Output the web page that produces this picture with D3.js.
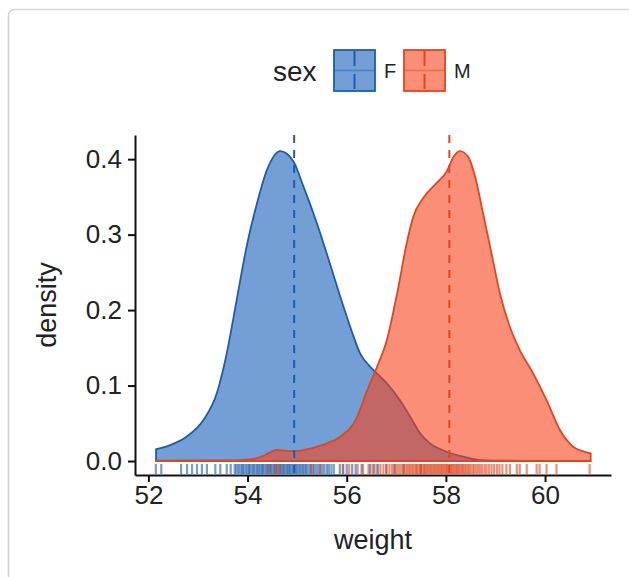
<!DOCTYPE html>
<html>
<head>
<meta charset="utf-8">
<script src="https://cdn.jsdelivr.net/npm/d3@7"></script>
<style>
  html, body { margin: 0; padding: 0; background: #ffffff; }
  svg { display: block; }
  text { font-family: "Liberation Sans", Arial, Helvetica, sans-serif; fill: #222; }
</style>
</head>
<body>
<svg id="chart" width="629" height="577"></svg>
<script>
// Groups and their colours
const groups = ["F", "M"];
const lineColors = ["#1d5cae", "#e0461f"];
const fillColors = ["#165fba", "#f6431a"];

// Density curve of weight for group F: [weight, density]
const densityF = [
  [52.155, 0.0159], [52.44, 0.0212], [52.77, 0.0322], [53.11, 0.0543],
  [53.38, 0.0897], [53.58, 0.1426], [53.78, 0.2132], [53.98, 0.2838],
  [54.19, 0.3413], [54.39, 0.3854], [54.66, 0.4106], [54.92, 0.3974],
  [55.13, 0.3633], [55.40, 0.3148], [55.66, 0.2618], [55.87, 0.2177],
  [56.07, 0.1779], [56.27, 0.1426], [56.54, 0.1205], [56.81, 0.1029],
  [57.07, 0.0808], [57.28, 0.0587], [57.48, 0.0367], [57.68, 0.0234],
  [58.02, 0.0123], [58.35, 0.0057], [58.69, 0.0013], [59.49, 0.0003],
  [60.30, 0.0001], [60.92, 0.0]
];

// Density curve of weight for group M: [weight, density]
const densityM = [
  [52.155, 0.0004], [53.04, 0.0007], [53.85, 0.0013], [54.15, 0.0033],
  [54.35, 0.0079], [54.59, 0.0146], [54.92, 0.0132], [55.26, 0.0166],
  [55.56, 0.0225], [55.86, 0.0318], [56.20, 0.0570], [56.40, 0.0914],
  [56.60, 0.1232], [56.81, 0.1603], [57.01, 0.2199], [57.21, 0.2887],
  [57.34, 0.3232], [57.54, 0.3483], [57.81, 0.3682], [58.02, 0.3841],
  [58.15, 0.4026], [58.28, 0.4106], [58.45, 0.4030], [58.59, 0.3766],
  [58.75, 0.3281], [58.92, 0.2751], [59.09, 0.2221], [59.29, 0.1779],
  [59.49, 0.1470], [59.76, 0.1162], [60.03, 0.0808], [60.30, 0.0411],
  [60.57, 0.0189], [60.84, 0.0115], [60.92, 0.0102]
];

// Group means of weight
const groupMeans = [54.94, 58.07];

// Individual weights shown in the rug
const rugF = [
  52.15, 52.26, 52.66, 52.78, 52.88, 52.98, 53.08, 53.18, 53.35, 53.45, 53.58, 53.66,
  53.74, 53.77, 53.81, 53.84, 53.88, 53.90, 53.93, 53.97, 54.00, 54.03, 54.05, 54.09,
  54.12, 54.14, 54.18, 54.20, 54.23, 54.26, 54.29, 54.31, 54.34, 54.37, 54.40, 54.42,
  54.45, 54.47, 54.50, 54.53, 54.55, 54.58, 54.60, 54.63, 54.66, 54.68, 54.71, 54.73,
  54.76, 54.79, 54.81, 54.84, 54.86, 54.89, 54.92, 54.95, 54.97, 55.00, 55.03, 55.06,
  55.09, 55.12, 55.15, 55.18, 55.21, 55.25, 55.28, 55.32, 55.35, 55.39, 55.43, 55.47,
  55.51, 55.55, 55.60, 55.64, 55.69, 55.74, 55.86, 55.93, 56.00, 56.11, 56.18, 56.30,
  56.47, 56.55, 56.63, 56.80, 56.97, 57.15, 57.50
];
const rugM = [
  54.42, 54.57, 54.64, 55.28, 55.46, 55.92, 56.05, 56.22, 56.33, 56.44, 56.52, 56.60,
  56.68, 56.74, 56.80, 56.86, 56.91, 56.95, 57.00, 57.04, 57.08, 57.12, 57.15, 57.19,
  57.22, 57.25, 57.28, 57.31, 57.34, 57.37, 57.40, 57.42, 57.45, 57.48, 57.50, 57.53,
  57.56, 57.58, 57.61, 57.63, 57.66, 57.69, 57.71, 57.74, 57.77, 57.79, 57.82, 57.85,
  57.87, 57.90, 57.92, 57.95, 57.97, 58.00, 58.02, 58.05, 58.07, 58.10, 58.12, 58.15,
  58.17, 58.20, 58.22, 58.25, 58.27, 58.30, 58.33, 58.35, 58.38, 58.41, 58.44, 58.47,
  58.50, 58.54, 58.57, 58.61, 58.65, 58.69, 58.73, 58.78, 58.82, 58.87, 58.92, 58.97,
  59.03, 59.08, 59.14, 59.22, 59.29, 59.43, 59.49, 59.63, 59.83, 59.89, 60.03, 60.23,
  60.90
];

// Axis ticks and titles
const xTicks = [52, 54, 56, 58, 60];
const yTicks = [0.0, 0.1, 0.2, 0.3, 0.4];
const xTitle = "weight";
const yTitle = "density";
const legendTitle = "sex";

const svg = d3.select("#chart");

// Card frame
svg.append("rect")
  .attr("x", 8.5).attr("y", 9.5)
  .attr("width", 660).attr("height", 620)
  .attr("rx", 6)
  .attr("fill", "#ffffff")
  .attr("stroke", "#d4d4d4")
  .attr("stroke-width", 1.5);

const panel = { left: 135, right: 611, top: 135, bottom: 475 };

const x = d3.scaleLinear().domain([51.73, 61.33]).range([panel.left, panel.right]);
const y = d3.scaleLinear().domain([-0.0185, 0.432]).range([panel.bottom, panel.top]);

const area = d3.area()
  .x(d => x(d[0]))
  .y0(y(0))
  .y1(d => y(d[1]))
  .curve(d3.curveMonotoneX);

const curves = [densityF, densityM];
const plot = svg.append("g");

// Density areas with their outlines
curves.forEach((c, i) => {
  plot.append("path")
    .datum(c)
    .attr("d", area)
    .attr("fill", fillColors[i])
    .attr("fill-opacity", 0.6)
    .attr("stroke", lineColors[i])
    .attr("stroke-width", 1.8)
    .attr("stroke-linejoin", "round");
});

// Mean lines
groupMeans.forEach((m, i) => {
  plot.append("line")
    .attr("x1", x(m)).attr("x2", x(m))
    .attr("y1", panel.top).attr("y2", panel.bottom)
    .attr("stroke", lineColors[i])
    .attr("stroke-width", 2)
    .attr("stroke-dasharray", "8,7");
});

// Rug
const rugLen = 10;
[rugF, rugM].forEach((vals, i) => {
  plot.append("g")
    .selectAll("line")
    .data(vals)
    .join("line")
    .attr("x1", d => x(d)).attr("x2", d => x(d))
    .attr("y1", panel.bottom - 1).attr("y2", panel.bottom - 1 - rugLen)
    .attr("stroke", lineColors[i])
    .attr("stroke-opacity", 0.6)
    .attr("stroke-width", 2.2);
});

// Axes
const xAxis = svg.append("g")
  .attr("transform", `translate(0,${panel.bottom})`)
  .call(d3.axisBottom(x).tickValues(xTicks).tickSize(7).tickSizeOuter(0).tickPadding(4).tickFormat(d3.format("d")));
const yAxis = svg.append("g")
  .attr("transform", `translate(${panel.left},0)`)
  .call(d3.axisLeft(y).tickValues(yTicks).tickSize(7).tickSizeOuter(0).tickPadding(6).tickFormat(d3.format(".1f")));

[xAxis, yAxis].forEach(a => {
  a.select(".domain").attr("stroke", "#111").attr("stroke-width", 2);
  a.selectAll(".tick line").attr("stroke", "#111").attr("stroke-width", 2);
  a.selectAll(".tick text")
    .attr("font-size", 26)
    .attr("fill", "#222")
    .attr("font-family", "Liberation Sans, Arial, sans-serif");
});

// Axis titles
svg.append("text")
  .attr("x", (panel.left + panel.right) / 2)
  .attr("y", 549)
  .attr("text-anchor", "middle")
  .attr("font-size", 27)
  .text(xTitle);

svg.append("text")
  .attr("transform", `translate(56,${(panel.top + panel.bottom) / 2}) rotate(-90)`)
  .attr("text-anchor", "middle")
  .attr("font-size", 27)
  .text(yTitle);

// Legend
const legend = svg.append("g");
legend.append("text")
  .attr("x", 273).attr("y", 81)
  .attr("font-size", 28)
  .text(legendTitle);

const keySize = 41;
const keyX = [334, 404];
groups.forEach((g, i) => {
  const k = legend.append("g").attr("transform", `translate(${keyX[i]},50)`);
  k.append("rect")
    .attr("x", 0).attr("y", 0)
    .attr("width", keySize).attr("height", keySize)
    .attr("fill", fillColors[i]).attr("fill-opacity", 0.6)
    .attr("stroke", lineColors[i]).attr("stroke-width", 1.8);
  k.append("line")
    .attr("x1", 1).attr("x2", keySize - 1)
    .attr("y1", keySize / 2).attr("y2", keySize / 2)
    .attr("stroke", lineColors[i]).attr("stroke-opacity", 0.45)
    .attr("stroke-width", 1.6);
  k.append("line")
    .attr("x1", keySize / 2).attr("x2", keySize / 2)
    .attr("y1", 1).attr("y2", keySize - 1)
    .attr("stroke", lineColors[i]).attr("stroke-width", 2)
    .attr("stroke-dasharray", "15,8");
  legend.append("text")
    .attr("x", keyX[i] + keySize + 9).attr("y", 78)
    .attr("font-size", 20)
    .text(g);
});
</script>
</body>
</html>
